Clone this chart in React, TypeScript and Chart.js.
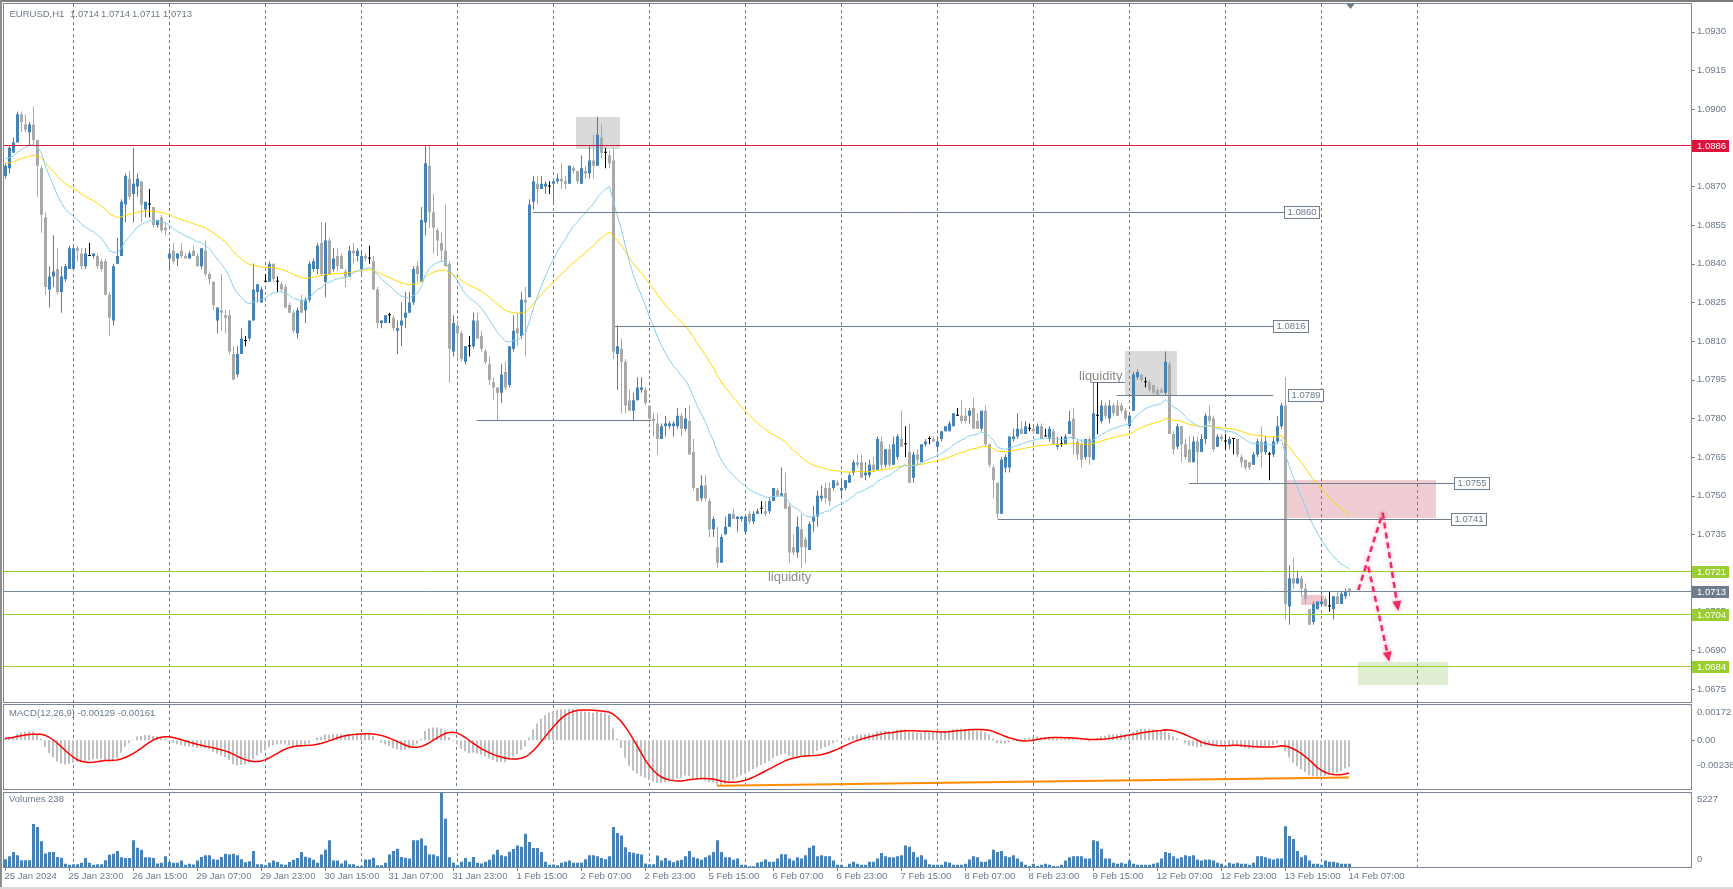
import React, { useEffect, useRef } from "react";
import { Chart, registerables } from "chart.js";

Chart.register(...registerables);

// ---------------- DATA ----------------
const open = [
  1.0874, 1.0877, 1.0883, 1.0887, 1.0898, 1.0894, 1.0891, 1.0894, 1.0888, 1.0877,
  1.0858, 1.083, 1.0835, 1.0838, 1.0829, 1.0834, 1.0838, 1.0838, 1.0846, 1.0844,
  1.0839, 1.0843, 1.0843, 1.0843, 1.0841, 1.0841, 1.0828, 1.0818, 1.084, 1.0843,
  1.0863, 1.0873, 1.0867, 1.087, 1.0872, 1.0861, 1.0863, 1.0862, 1.0855, 1.0858,
  1.0854, 1.0842, 1.0845, 1.0842, 1.0845, 1.0843, 1.0842, 1.0845, 1.0843, 1.0839,
  1.0845, 1.0836, 1.0833, 1.0818, 1.0822, 1.082, 1.082, 1.0805, 1.0797, 1.0805,
  1.081, 1.0811, 1.0818, 1.0829, 1.0825, 1.0833, 1.0833, 1.084, 1.0833, 1.0832,
  1.0831, 1.0824, 1.0821, 1.0813, 1.0826, 1.0822, 1.0826, 1.0838, 1.0838, 1.0848,
  1.0833, 1.0849, 1.0838, 1.0843, 1.0843, 1.0837, 1.0835, 1.0845, 1.0843, 1.0838,
  1.0843, 1.0842, 1.0841, 1.083, 1.0817, 1.0817, 1.082, 1.0819, 1.0814, 1.0816,
  1.0819, 1.0821, 1.0825, 1.0839, 1.0833, 1.0856, 1.0878, 1.086, 1.0853, 1.0848,
  1.0845, 1.084, 1.0806, 1.0816, 1.0813, 1.0802, 1.0808, 1.0808, 1.0818, 1.0812,
  1.0806, 1.0801, 1.0794, 1.0792, 1.079, 1.0798, 1.0793, 1.0807, 1.0815, 1.0812,
  1.0826, 1.0827, 1.0864, 1.0871, 1.0869, 1.087, 1.087, 1.0871, 1.0872, 1.0873,
  1.0872, 1.0871, 1.0877, 1.0876, 1.0871, 1.0876, 1.0875, 1.088, 1.0878, 1.0889,
  1.0883, 1.0882, 1.088, 1.0805, 1.0807, 1.0802, 1.0787, 1.0783, 1.0787, 1.0791,
  1.0791, 1.0785, 1.078, 1.0778, 1.0772, 1.0777, 1.0777, 1.0777, 1.0777, 1.0781,
  1.0776, 1.0779, 1.0767, 1.0753, 1.0749, 1.0754, 1.0748, 1.0737, 1.073, 1.0724,
  1.0735, 1.0738, 1.0743, 1.0741, 1.0741, 1.0736, 1.0743, 1.074, 1.0743, 1.0745,
  1.0744, 1.0744, 1.0748, 1.0752, 1.075, 1.0751, 1.0746, 1.073, 1.0728, 1.0737,
  1.0733, 1.0729, 1.074, 1.0742, 1.0749, 1.0753, 1.0753, 1.0753, 1.0755, 1.0752,
  1.0753, 1.0755, 1.0759, 1.0763, 1.0763, 1.0758, 1.0758, 1.0762, 1.076, 1.0771,
  1.0762, 1.0768, 1.0762, 1.0765, 1.0772, 1.077, 1.0767, 1.0757, 1.0766, 1.0763,
  1.077, 1.0772, 1.0772, 1.0769, 1.0772, 1.0775, 1.0775, 1.0777, 1.0781, 1.0781,
  1.0781, 1.0781, 1.0784, 1.0779, 1.0776, 1.0783, 1.077, 1.0761, 1.0755, 1.0743,
  1.0761, 1.0761, 1.0772, 1.0773, 1.0776, 1.0774, 1.0776, 1.0776, 1.0774, 1.0777,
  1.0773, 1.0772, 1.0775, 1.0769, 1.077, 1.077, 1.0774, 1.078, 1.0771, 1.077,
  1.0765, 1.0772, 1.0764, 1.0781, 1.0779, 1.0785, 1.078, 1.0785, 1.0785, 1.0785,
  1.0783, 1.0777, 1.0783, 1.0796, 1.0797, 1.0794, 1.0794, 1.0793, 1.0791, 1.0791,
  1.079, 1.0801, 1.0774, 1.0769, 1.0777, 1.077, 1.0768, 1.0763, 1.0771, 1.0767,
  1.0772, 1.0781, 1.078, 1.0769, 1.0773, 1.0771, 1.077, 1.0772, 1.0772, 1.0765,
  1.0764, 1.0763, 1.0762, 1.0766, 1.0771, 1.0767, 1.0766, 1.0766, 1.0771, 1.0777,
  1.0785, 1.0707, 1.0718, 1.0716, 1.0718, 1.0714, 1.0706, 1.0701, 1.0706, 1.0708,
  1.071, 1.0707, 1.0706, 1.0711, 1.0708, 1.0711, 1.0714,
];
const high = [
  1.0879, 1.0886, 1.0889, 1.0899, 1.0899, 1.0898, 1.0895, 1.0901, 1.0888, 1.0878,
  1.086, 1.0839, 1.0851, 1.0846, 1.0839, 1.084, 1.0847, 1.0847, 1.0847, 1.0846,
  1.0846, 1.0848, 1.0844, 1.0844, 1.0842, 1.0842, 1.0829, 1.084, 1.085, 1.0865,
  1.0875, 1.0876, 1.0885, 1.0875, 1.0872, 1.0864, 1.0869, 1.0862, 1.0857, 1.0859,
  1.0856, 1.0846, 1.0848, 1.0844, 1.0848, 1.0844, 1.0845, 1.0847, 1.0844, 1.0846,
  1.0849, 1.0837, 1.0833, 1.0823, 1.0836, 1.0822, 1.0822, 1.0808, 1.0808, 1.0815,
  1.0812, 1.0818, 1.084, 1.0832, 1.0831, 1.0836, 1.0841, 1.084, 1.0835, 1.0833,
  1.0832, 1.0825, 1.0822, 1.0823, 1.0828, 1.0827, 1.0841, 1.0842, 1.0848, 1.0856,
  1.0856, 1.085, 1.0846, 1.0846, 1.0844, 1.0838, 1.0847, 1.0848, 1.0846, 1.0845,
  1.0844, 1.0847, 1.0843, 1.0831, 1.0818, 1.082, 1.0821, 1.082, 1.0818, 1.0825,
  1.0829, 1.0829, 1.0839, 1.0841, 1.0862, 1.0886, 1.0886, 1.0867, 1.0854, 1.0852,
  1.0863, 1.0841, 1.082, 1.0818, 1.0814, 1.0808, 1.0812, 1.0821, 1.0821, 1.0814,
  1.0807, 1.0804, 1.0796, 1.0792, 1.0801, 1.0802, 1.0808, 1.082, 1.0821, 1.0829,
  1.0831, 1.0865, 1.0874, 1.0874, 1.0874, 1.0872, 1.0872, 1.0872, 1.0875, 1.0879,
  1.0874, 1.0878, 1.0878, 1.0876, 1.0882, 1.0878, 1.0886, 1.089, 1.0897, 1.0894,
  1.0885, 1.0884, 1.0885, 1.0816, 1.0811, 1.0803, 1.0791, 1.079, 1.0796, 1.0796,
  1.0792, 1.0785, 1.0782, 1.0782, 1.0778, 1.0781, 1.0779, 1.0779, 1.0784, 1.0782,
  1.0784, 1.0785, 1.0772, 1.0753, 1.0758, 1.0758, 1.0749, 1.0742, 1.0738, 1.0735,
  1.0742, 1.0743, 1.0745, 1.0742, 1.0742, 1.0742, 1.0744, 1.0744, 1.0745, 1.0748,
  1.0748, 1.0749, 1.0753, 1.0753, 1.0761, 1.0759, 1.0747, 1.0735, 1.0742, 1.0743,
  1.0734, 1.074, 1.0746, 1.0752, 1.0754, 1.0755, 1.0755, 1.0756, 1.0756, 1.0756,
  1.0756, 1.0759, 1.0764, 1.0766, 1.0766, 1.0763, 1.0764, 1.0765, 1.0773, 1.0773,
  1.0768, 1.077, 1.0773, 1.0774, 1.0783, 1.0777, 1.0778, 1.0767, 1.0768, 1.077,
  1.0772, 1.0773, 1.0773, 1.0772, 1.0775, 1.0777, 1.0779, 1.0782, 1.0784, 1.0787,
  1.0784, 1.0784, 1.0788, 1.0782, 1.0783, 1.0785, 1.077, 1.0762, 1.0755, 1.0765,
  1.0766, 1.0773, 1.0776, 1.0782, 1.0779, 1.0779, 1.0778, 1.0777, 1.0778, 1.0778,
  1.0776, 1.0777, 1.0776, 1.0773, 1.0773, 1.0774, 1.0783, 1.0784, 1.0772, 1.0772,
  1.0772, 1.0773, 1.0794, 1.0794, 1.0787, 1.0786, 1.0787, 1.0786, 1.0787, 1.0786,
  1.0784, 1.0782, 1.0798, 1.0799, 1.0797, 1.0796, 1.0795, 1.0793, 1.0792, 1.0792,
  1.0806, 1.0802, 1.0775, 1.0778, 1.0777, 1.0772, 1.0773, 1.0773, 1.0773, 1.0774,
  1.0782, 1.0785, 1.0781, 1.0774, 1.0774, 1.0774, 1.0773, 1.0772, 1.0772, 1.0766,
  1.0764, 1.0763, 1.0767, 1.0772, 1.0777, 1.0773, 1.0767, 1.0773, 1.0781, 1.0786,
  1.0796, 1.0723, 1.0726, 1.0721, 1.0719, 1.0716, 1.0706, 1.0709, 1.0709, 1.0711,
  1.0711, 1.0713, 1.0711, 1.0713, 1.0713, 1.0714, 1.0714,
];
const low = [
  1.0873, 1.0875, 1.0883, 1.0887, 1.0891, 1.0891, 1.0886, 1.0886, 1.0866, 1.0852,
  1.0828, 1.0823, 1.0831, 1.0828, 1.0821, 1.0833, 1.0838, 1.0838, 1.0841, 1.0838,
  1.0838, 1.0843, 1.0842, 1.0838, 1.0837, 1.0828, 1.0812, 1.0816, 1.084, 1.0843,
  1.0856, 1.0865, 1.0856, 1.0866, 1.0856, 1.0858, 1.0858, 1.0854, 1.0854, 1.0852,
  1.0851, 1.0838, 1.084, 1.0839, 1.0842, 1.0842, 1.0842, 1.0843, 1.0839, 1.0838,
  1.0835, 1.0832, 1.0822, 1.0813, 1.0814, 1.0813, 1.0805, 1.0795, 1.0796, 1.0805,
  1.0808, 1.081, 1.0818, 1.0825, 1.0825, 1.0833, 1.0833, 1.0833, 1.0829, 1.0829,
  1.0823, 1.0821, 1.0813, 1.0811, 1.0821, 1.0817, 1.0825, 1.0837, 1.0836, 1.0835,
  1.0827, 1.0836, 1.0837, 1.0837, 1.0838, 1.0831, 1.0835, 1.084, 1.0841, 1.0835,
  1.0841, 1.084, 1.083, 1.0815, 1.0815, 1.0817, 1.0817, 1.0814, 1.0805, 1.0808,
  1.0815, 1.0821, 1.0824, 1.0833, 1.0833, 1.0851, 1.0854, 1.0844, 1.0843, 1.0841,
  1.0839, 1.0794, 1.0804, 1.0803, 1.0802, 1.0801, 1.0804, 1.0807, 1.0811, 1.0806,
  1.0801, 1.0793, 1.0787, 1.0779, 1.0786, 1.0791, 1.0792, 1.0806, 1.0808, 1.0811,
  1.0804, 1.0827, 1.0861, 1.0863, 1.0869, 1.0867, 1.0867, 1.0863, 1.0871, 1.0869,
  1.0869, 1.0871, 1.0875, 1.0871, 1.0871, 1.0873, 1.0873, 1.0873, 1.0878, 1.0881,
  1.0877, 1.0877, 1.0803, 1.0791, 1.0782, 1.0782, 1.0783, 1.0779, 1.0787, 1.079,
  1.0785, 1.0778, 1.0773, 1.0766, 1.0772, 1.0773, 1.0776, 1.0773, 1.0776, 1.0773,
  1.0775, 1.0766, 1.0752, 1.0748, 1.0748, 1.0748, 1.0734, 1.0734, 1.0722, 1.0724,
  1.0735, 1.0738, 1.0741, 1.0736, 1.074, 1.0735, 1.0739, 1.0739, 1.0743, 1.0743,
  1.0742, 1.0743, 1.0748, 1.075, 1.075, 1.0745, 1.0724, 1.0727, 1.0726, 1.0722,
  1.0724, 1.0729, 1.0736, 1.0738, 1.0748, 1.0747, 1.0746, 1.0752, 1.0754, 1.0749,
  1.0752, 1.0755, 1.0758, 1.0761, 1.0757, 1.0756, 1.0757, 1.0759, 1.076, 1.076,
  1.0761, 1.0761, 1.0762, 1.0764, 1.0769, 1.0765, 1.0755, 1.0755, 1.0762, 1.0763,
  1.0769, 1.077, 1.0771, 1.0767, 1.0771, 1.0775, 1.0775, 1.0777, 1.0781, 1.0778,
  1.0778, 1.0778, 1.0776, 1.0776, 1.0775, 1.0769, 1.0761, 1.0749, 1.0741, 1.0743,
  1.0759, 1.0759, 1.0771, 1.0772, 1.0774, 1.0774, 1.0775, 1.0774, 1.0774, 1.0772,
  1.0773, 1.0771, 1.077, 1.0768, 1.0769, 1.077, 1.0774, 1.0766, 1.0764, 1.0761,
  1.0764, 1.0762, 1.0764, 1.0774, 1.0778, 1.078, 1.0778, 1.0781, 1.0781, 1.0782,
  1.0779, 1.0776, 1.0783, 1.0795, 1.0794, 1.0792, 1.079, 1.0789, 1.0789, 1.079,
  1.0789, 1.0774, 1.0766, 1.0768, 1.0763, 1.0764, 1.0763, 1.0763, 1.0755, 1.0767,
  1.077, 1.0778, 1.0767, 1.0769, 1.0771, 1.0768, 1.0768, 1.0766, 1.0765, 1.0761,
  1.076, 1.076, 1.0762, 1.0765, 1.0761, 1.0766, 1.0756, 1.0765, 1.077, 1.0776,
  1.0702, 1.07, 1.0714, 1.0716, 1.0711, 1.0708, 1.07, 1.07, 1.0706, 1.0707,
  1.0707, 1.0705, 1.0702, 1.0708, 1.0708, 1.071, 1.0711,
];
const close = [
  1.0878, 1.0885, 1.0887, 1.0898, 1.0895, 1.0892, 1.0894, 1.0888, 1.0878, 1.0859,
  1.0831, 1.0835, 1.0837, 1.0829, 1.0835, 1.0839, 1.0846, 1.0846, 1.0845, 1.0839,
  1.0844, 1.0843, 1.0844, 1.0839, 1.0838, 1.0828, 1.0819, 1.0839, 1.0843, 1.0864,
  1.0874, 1.0866, 1.0871, 1.0873, 1.0863, 1.0864, 1.0863, 1.0855, 1.0857, 1.0853,
  1.0853, 1.0844, 1.0841, 1.0844, 1.0843, 1.0842, 1.0844, 1.0843, 1.0839, 1.0846,
  1.0836, 1.0834, 1.0824, 1.0823, 1.0821, 1.0819, 1.0806, 1.0795, 1.0805, 1.0811,
  1.081, 1.0818, 1.083, 1.0832, 1.083, 1.0833, 1.084, 1.0834, 1.0833, 1.083,
  1.0823, 1.0821, 1.0814, 1.0822, 1.0821, 1.0826, 1.084, 1.0841, 1.0847, 1.0836,
  1.0849, 1.0836, 1.0842, 1.0839, 1.0838, 1.0835, 1.0845, 1.0844, 1.0845, 1.0843,
  1.0842, 1.0842, 1.083, 1.0817, 1.0818, 1.082, 1.082, 1.0815, 1.0815, 1.0818,
  1.0821, 1.0825, 1.0838, 1.0836, 1.0857, 1.0879, 1.086, 1.0854, 1.0849, 1.0845,
  1.0839, 1.0807, 1.0817, 1.0813, 1.0803, 1.0808, 1.0808, 1.0818, 1.0811, 1.0807,
  1.0802, 1.0795, 1.0792, 1.079, 1.0797, 1.0792, 1.0808, 1.0814, 1.0813, 1.0826,
  1.0825, 1.0863, 1.0872, 1.0869, 1.0871, 1.0871, 1.087, 1.0872, 1.0873, 1.0872,
  1.0871, 1.0878, 1.0876, 1.0872, 1.0877, 1.0875, 1.088, 1.0878, 1.089, 1.0883,
  1.0883, 1.0879, 1.0806, 1.0808, 1.0802, 1.0785, 1.0783, 1.0787, 1.0792, 1.0792,
  1.0786, 1.078, 1.0779, 1.0772, 1.0777, 1.0778, 1.0778, 1.0778, 1.0781, 1.0776,
  1.078, 1.0766, 1.0753, 1.0748, 1.0754, 1.0749, 1.0737, 1.0741, 1.0724, 1.0734,
  1.0738, 1.0743, 1.0741, 1.0742, 1.0742, 1.0742, 1.074, 1.0743, 1.0744, 1.0745,
  1.0743, 1.0748, 1.0753, 1.075, 1.0751, 1.0745, 1.0728, 1.0728, 1.0738, 1.073,
  1.073, 1.0739, 1.0742, 1.075, 1.075, 1.0749, 1.0748, 1.0756, 1.0754, 1.0753,
  1.0756, 1.0758, 1.0763, 1.0762, 1.0757, 1.0759, 1.0762, 1.076, 1.0772, 1.0762,
  1.0768, 1.0762, 1.077, 1.0773, 1.0769, 1.077, 1.0755, 1.0766, 1.0764, 1.077,
  1.0771, 1.0772, 1.0771, 1.0771, 1.0775, 1.0777, 1.0778, 1.0782, 1.0781, 1.0779,
  1.0779, 1.0783, 1.0776, 1.0776, 1.0783, 1.077, 1.0762, 1.0756, 1.0743, 1.0764,
  1.0765, 1.0773, 1.0773, 1.0776, 1.0774, 1.0777, 1.0776, 1.0775, 1.0777, 1.0772,
  1.0773, 1.0776, 1.077, 1.077, 1.077, 1.0773, 1.0779, 1.0772, 1.0766, 1.0764,
  1.0772, 1.0765, 1.0782, 1.0781, 1.0785, 1.0781, 1.0785, 1.0782, 1.0781, 1.0783,
  1.078, 1.0781, 1.0797, 1.0798, 1.0795, 1.0794, 1.0791, 1.079, 1.0789, 1.079,
  1.0802, 1.0774, 1.0768, 1.0777, 1.077, 1.0765, 1.0763, 1.0771, 1.0767, 1.0772,
  1.0781, 1.0779, 1.0768, 1.0773, 1.0772, 1.0771, 1.0772, 1.0772, 1.0766, 1.0763,
  1.0761, 1.0761, 1.0766, 1.0771, 1.0767, 1.0771, 1.0766, 1.0771, 1.0777, 1.0785,
  1.0708, 1.0718, 1.0716, 1.0718, 1.0714, 1.071, 1.07, 1.0708, 1.0709, 1.0709,
  1.0707, 1.0707, 1.0711, 1.0708, 1.0712, 1.0713, 1.0713,
];
const volume = [
  555, 758, 1060, 833, 480, 480, 480, 3030, 2828, 1818, 960, 1060, 1060, 707, 656, 227, 151,
  202, 202, 303, 631, 303, 151, 202, 202, 480, 859, 934, 1136, 682, 631, 631, 1894, 1364, 1212, 682, 682, 631, 252, 303, 758,
  379, 303, 303, 455, 151, 227, 177, 455, 707, 833, 833, 555, 505, 707, 934, 884, 934, 833, 555, 328, 404, 1136, 202, 202,
  126, 303, 455, 354, 202, 151, 354, 505, 631, 1060, 732, 656, 505, 303, 884, 1212, 1894, 455, 455, 252, 455, 202, 202, 76,
  76, 530, 530, 656, 126, 126, 303, 884, 1136, 1288, 707, 656, 606, 1894, 1894, 2020, 1515, 884, 884, 757, 5227, 3409, 682, 303,
  126, 379, 631, 379, 707, 303, 252, 379, 505, 884, 1212, 833, 758, 1086, 1263, 1515, 1439, 2348, 1768, 1338, 1338, 1060, 379, 151,
  177, 126, 303, 379, 455, 303, 303, 303, 555, 833, 833, 758, 631, 555, 758, 2828, 2399, 2222, 1389, 1060, 1010, 934, 884, 252,
  202, 202, 808, 455, 631, 455, 328, 455, 505, 758, 1136, 682,
  606, 505, 682, 833, 1060, 1894, 1060, 682, 682, 505,
  606, 151, 151, 50, 50, 303, 379, 530, 379, 379,
  606, 909, 909, 606, 455, 682, 606, 833, 1364, 1515,
  758, 833, 758, 758, 455, 151, 151, 20, 227, 379,
  227, 151, 151, 379, 379, 606, 985, 758, 682, 682,
  758, 833, 1515, 1439, 1060, 682, 833, 530, 202, 151,
  151, 151, 379, 303, 151, 151, 151, 227, 530, 758,
  682, 379, 379, 530, 1212, 1060, 1136, 758, 682, 833,
  606, 379, 151, 76, 227, 76, 151, 227, 151, 76,
  50, 151, 455, 682, 758, 758, 758, 606, 606, 1894,
  1818, 1288, 606, 606, 303, 227, 303, 227, 455, 227,
  151, 151, 151, 151, 227, 303, 606, 1060, 985, 758,
  606, 682, 833, 758, 833, 530, 455, 530, 530, 455,
  303, 227, 76, 303, 227, 303, 227, 227, 151, 303,
  758, 758, 682, 606, 530, 606, 606, 2879, 2197, 1970,
  1136, 682, 833, 455, 227, 227, 151, 455, 379, 379,
  303, 227, 227, 238,
];

// indicator seeds (values of the averages just before the first bar)
const ema20Seed = 1.0881;
const ema50Seed = 1.0879;
const ema12Seed = 1.08785;
const ema26Seed = 1.08775;

// axes
const priceTicks = [1.0675, 1.069, 1.0705, 1.072, 1.0735, 1.075, 1.0765, 1.078, 1.0795, 1.081, 1.0825, 1.084, 1.0855, 1.087, 1.0885, 1.09, 1.0915, 1.093];
const macdTickValues = [0.00172, 0, -0.00238];
const macdTickLabels = ["0.00172", "0.00", "-0.00238"];
const volumeTickValues = [5227, 0];
const xTickBars = [0, 16, 32, 48, 64, 80, 96, 112, 128, 144, 160, 176, 192, 208, 224, 240, 256, 272, 288, 304, 320, 336];
const xTickLabels = [
  "25 Jan 2024", "25 Jan 23:00", "26 Jan 15:00", "29 Jan 07:00", "29 Jan 23:00", "30 Jan 15:00",
  "31 Jan 07:00", "31 Jan 23:00", "1 Feb 15:00", "2 Feb 07:00", "2 Feb 23:00", "5 Feb 15:00",
  "6 Feb 07:00", "6 Feb 23:00", "7 Feb 15:00", "8 Feb 07:00", "8 Feb 23:00", "9 Feb 15:00",
  "12 Feb 07:00", "12 Feb 23:00", "13 Feb 15:00", "14 Feb 07:00",
];
const separatorBars = [17, 41, 65, 89, 113, 137, 161, 185, 209, 233, 257, 281, 305, 329, 353];

// header (symbol + last bar OHLC)
const headerSymbol = "EURUSD,H1";
const headerOHLC = ["1.0714", "1.0714", "1.0711", "1.0713"];

// full-width price levels
const levelPrices = [1.0886, 1.0721, 1.0713, 1.0704, 1.0684];
// horizontal trend segments (bar index from/to, price)
const segFrom = [131.9, 152.4, 117.8, 277.8, 295.9, 248.1, 271.5];
const segTo = [319.6, 316.9, 161.4, 316.9, 362.1, 361.4, 279.9];
const segPrice = [1.086, 1.0816, 1.07794, 1.0789, 1.0755, 1.0741, 1.0794];
const segLabelBar = [319.6, 316.9, -1, 320.6, 362.1, 361.4, -1];
// rectangles (bar from/to, price top/bottom)
const zoneFrom = [142.7, 279.75, 319.75, 323.9, 338];
const zoneTo = [153.75, 292.7, 357.4, 329.75, 360.5];
const zoneTop = [1.0897, 1.08063, 1.07561, 1.07115, 1.06856];
const zoneBottom = [1.08845, 1.07887, 1.07413, 1.07076, 1.06766];
// dashed arrows
const arrowFromBar = [338.2, 344.3, 340.7];
const arrowFromPrice = [1.07134, 1.07434, 1.07225];
const arrowToBar = [344.3, 348.2, 345.95];
const arrowToPrice = [1.07434, 1.07053, 1.06856];
const arrowHead = [false, true, true];
// text notes
const noteText = ["liquidity", "liquidity"];
const noteBar = [268.4, 190.6];
const notePrice = [1.07961, 1.07185];
// MACD trend line
const macdTrendBars = [178, 336];
const macdTrendValues = [-0.00222, -0.00182];

// ---------------- STYLE ----------------
const SLOTS = 422;
const slotLabels = Array.from({ length: SLOTS }, (_, i) => String(i));
const FONT = '9.5px "Liberation Sans", Arial, sans-serif';
const AXIS_TEXT = "#6b7a8c";
const FRAME = "#7a8796";
const SEP = "#6f7c8b";
const BULL = "#4682b4";
const BEAR = "#a9a9a9";
const DOJI = "#000000";
const levelColors = ["#dc143c", "#9acd32", "#778899", "#9acd32", "#9acd32"];
const levelBoxColors = ["#dc143c", "#9acd32", "#6e7c8c", "#9acd32", "#9acd32"];
const zoneColors = ["#dadada", "#dadada", "#efcdd2", "#efc6cc", "#dfedd0"];
const SEG_COLOR = "#6f7e8e";
const ARROW = "#f02a62";

// ---------------- DERIVED ----------------
function emaFrom(values: number[], period: number, seed: number) {
  const k = 2 / (period + 1);
  let prev = seed;
  return values.map((v) => (prev = prev + k * (v - prev)));
}
const ema20 = emaFrom(close, 20, ema20Seed);
const ema50 = emaFrom(close, 50, ema50Seed);
const ema12 = emaFrom(close, 12, ema12Seed);
const ema26 = emaFrom(close, 26, ema26Seed);
const macdMain = ema12.map((v, i) => v - ema26[i]);
const macdSignal = macdMain.map((_, i) => {
  let s = 0, n = 0;
  for (let j = Math.max(0, i - 8); j <= i; j++) { s += macdMain[j]; n++; }
  return s / n;
});
const candleColors = close.map((c, i) => (c > open[i] ? BULL : c < open[i] ? BEAR : DOJI));

// ---------------- HELPERS ----------------
function txt(ctx: any, s: string, x: number, y: number, color: string, font = FONT, align = "left") {
  ctx.font = font;
  ctx.fillStyle = color;
  ctx.textAlign = align;
  ctx.textBaseline = "middle";
  ctx.fillText(s, x, y);
}
function drawSeparators(chart: any) {
  const { ctx, chartArea: a, scales } = chart;
  ctx.save();
  ctx.strokeStyle = SEP;
  ctx.lineWidth = 1;
  ctx.setLineDash([3, 3]);
  separatorBars.forEach((b) => {
    const x = Math.floor(scales.x.getPixelForValue(b)) + 0.5;
    ctx.beginPath();
    ctx.moveTo(x, a.top);
    ctx.lineTo(x, a.bottom);
    ctx.stroke();
  });
  ctx.restore();
}
function drawFrame(chart: any) {
  const { ctx, chartArea: a } = chart;
  ctx.save();
  ctx.strokeStyle = FRAME;
  ctx.lineWidth = 1;
  ctx.strokeRect(3.5, a.top - 0.5, 1688, a.bottom - a.top + 1);
  ctx.restore();
}
function axisLabel(chart: any, label: string, y: number, tick = true) {
  const { ctx } = chart;
  if (tick) {
    ctx.save();
    ctx.strokeStyle = FRAME;
    ctx.beginPath();
    ctx.moveTo(1692, Math.round(y) + 0.5);
    ctx.lineTo(1695, Math.round(y) + 0.5);
    ctx.stroke();
    ctx.restore();
  }
  txt(ctx, label, 1697, y, AXIS_TEXT);
}

function baseOptions(min: number, max: number, padTop: number, padBottom: number, padLeft = 3.5): any {
  return {
    responsive: false,
    maintainAspectRatio: false,
    animation: false,
    devicePixelRatio: 1,
    events: [],
    layout: { autoPadding: false, padding: { left: padLeft, right: 0, top: padTop, bottom: padBottom } },
    plugins: { legend: { display: false }, tooltip: { enabled: false }, title: { display: false } },
    scales: {
      x: { type: "category", labels: slotLabels, offset: true, display: false, grid: { display: false } },
      y: {
        type: "linear", position: "right", min, max, display: true,
        grid: { display: false, drawTicks: false }, border: { display: false }, ticks: { display: false },
        afterFit: (s: any) => { s.width = 1733 - (padLeft + SLOTS * 4); },
      },
    },
  };
}

// ---------------- PLUGINS ----------------
const mainDecor = {
  id: "mainDecor",
  beforeDatasetsDraw(chart: any) {
    const { ctx, chartArea: a, scales } = chart;
    const xs = scales.x, ys = scales.y;
    ctx.save();
    ctx.beginPath();
    ctx.rect(a.left, a.top, a.right - a.left, a.bottom - a.top);
    ctx.clip();
    for (let k = 0; k < zoneFrom.length; k++) {
      const x0 = xs.getPixelForValue(zoneFrom[k]);
      const x1 = xs.getPixelForValue(zoneTo[k]);
      const y0 = ys.getPixelForValue(zoneTop[k]);
      const y1 = ys.getPixelForValue(zoneBottom[k]);
      ctx.fillStyle = zoneColors[k];
      ctx.fillRect(Math.round(x0), Math.round(y0), Math.round(x1 - x0), Math.round(y1 - y0));
    }
    ctx.restore();
    drawSeparators(chart);
  },
  afterDatasetsDraw(chart: any) {
    const { ctx, chartArea: a, scales } = chart;
    const xs = scales.x, ys = scales.y;
    ctx.save();
    ctx.beginPath();
    ctx.rect(a.left, a.top, a.right - a.left, a.bottom - a.top);
    ctx.clip();
    ctx.lineWidth = 1;
    levelPrices.forEach((p, k) => {
      const y = Math.round(ys.getPixelForValue(p)) + 0.5;
      ctx.strokeStyle = levelColors[k];
      ctx.beginPath();
      ctx.moveTo(a.left, y);
      ctx.lineTo(a.right, y);
      ctx.stroke();
    });
    for (let k = 0; k < segPrice.length; k++) {
      const y = Math.round(ys.getPixelForValue(segPrice[k])) + 0.5;
      ctx.strokeStyle = SEG_COLOR;
      ctx.beginPath();
      ctx.moveTo(xs.getPixelForValue(segFrom[k]), y);
      ctx.lineTo(xs.getPixelForValue(segTo[k]), y);
      ctx.stroke();
      if (segLabelBar[k] >= 0) {
        const bx = Math.round(xs.getPixelForValue(segLabelBar[k])) + 0.5;
        ctx.fillStyle = "#ffffff";
        ctx.fillRect(bx, y - 6, 35, 12);
        ctx.strokeStyle = SEG_COLOR;
        ctx.strokeRect(bx, y - 6, 35, 12);
        txt(ctx, segPrice[k].toFixed(4), bx + 3, y, "#6a7a8c");
      }
    }
    for (let k = 0; k < noteText.length; k++) {
      txt(ctx, noteText[k], xs.getPixelForValue(noteBar[k]), ys.getPixelForValue(notePrice[k]), "#8a8a8a", '13px "Liberation Sans", Arial, sans-serif');
    }
    ctx.strokeStyle = ARROW;
    ctx.fillStyle = ARROW;
    ctx.lineWidth = 2.5;
    ctx.shadowColor = "rgba(240,42,98,0.45)";
    ctx.shadowBlur = 4;
    for (let k = 0; k < arrowFromBar.length; k++) {
      const x0 = xs.getPixelForValue(arrowFromBar[k]);
      const y0 = ys.getPixelForValue(arrowFromPrice[k]);
      const x1 = xs.getPixelForValue(arrowToBar[k]);
      const y1 = ys.getPixelForValue(arrowToPrice[k]);
      const ang = Math.atan2(y1 - y0, x1 - x0);
      const back = arrowHead[k] ? 8 : 0;
      ctx.setLineDash([6, 4]);
      ctx.beginPath();
      ctx.moveTo(x0, y0);
      ctx.lineTo(x1 - back * Math.cos(ang), y1 - back * Math.sin(ang));
      ctx.stroke();
      if (arrowHead[k]) {
        ctx.setLineDash([]);
        ctx.beginPath();
        ctx.moveTo(x1, y1);
        ctx.lineTo(x1 - 10 * Math.cos(ang) + 4.5 * Math.sin(ang), y1 - 10 * Math.sin(ang) - 4.5 * Math.cos(ang));
        ctx.lineTo(x1 - 10 * Math.cos(ang) - 4.5 * Math.sin(ang), y1 - 10 * Math.sin(ang) + 4.5 * Math.cos(ang));
        ctx.closePath();
        ctx.fill();
      }
    }
    ctx.restore();
  },
  afterDraw(chart: any) {
    const { ctx, chartArea: a, scales } = chart;
    const xs = scales.x, ys = scales.y;
    drawFrame(chart);
    priceTicks.forEach((p) => axisLabel(chart, p.toFixed(4), ys.getPixelForValue(p)));
    levelPrices.forEach((p, k) => {
      const y = Math.round(ys.getPixelForValue(p));
      ctx.fillStyle = levelBoxColors[k];
      ctx.fillRect(1692, y - 5, 37, 12);
      txt(ctx, p.toFixed(4), 1697, y + 1, "#ffffff");
    });
    txt(ctx, headerSymbol, 9.5, 14, AXIS_TEXT);
    headerOHLC.forEach((s, k) => txt(ctx, s, 70 + k * 31, 14, AXIS_TEXT));
    const mx = Math.round(xs.getPixelForValue(336)) + 0.5;
    ctx.fillStyle = "#6f7c8b";
    ctx.beginPath();
    ctx.moveTo(mx - 4, a.top);
    ctx.lineTo(mx + 4, a.top);
    ctx.lineTo(mx, a.top + 5);
    ctx.closePath();
    ctx.fill();
  },
};

const macdDecor = {
  id: "macdDecor",
  beforeDatasetsDraw(chart: any) { drawSeparators(chart); },
  afterDatasetsDraw(chart: any) {
    const { ctx, scales } = chart;
    ctx.save();
    ctx.strokeStyle = "#ff8c00";
    ctx.lineWidth = 2;
    ctx.beginPath();
    ctx.moveTo(scales.x.getPixelForValue(macdTrendBars[0]), scales.y.getPixelForValue(macdTrendValues[0]));
    ctx.lineTo(scales.x.getPixelForValue(macdTrendBars[1]), scales.y.getPixelForValue(macdTrendValues[1]));
    ctx.stroke();
    ctx.restore();
  },
  afterDraw(chart: any) {
    const { ctx, chartArea: a, scales } = chart;
    drawFrame(chart);
    axisLabel(chart, macdTickLabels[0], a.top + 7, false);
    axisLabel(chart, macdTickLabels[1], scales.y.getPixelForValue(macdTickValues[1]));
    axisLabel(chart, macdTickLabels[2], a.bottom - 24, false);
    txt(ctx, "MACD(12,26,9) -0.00129 -0.00161", 9, a.top + 8, AXIS_TEXT);
  },
};

const volDecor = {
  id: "volDecor",
  beforeDatasetsDraw(chart: any) { drawSeparators(chart); },
  afterDraw(chart: any) {
    const { ctx, chartArea: a, scales } = chart;
    drawFrame(chart);
    axisLabel(chart, String(volumeTickValues[0]), a.top + 6, false);
    axisLabel(chart, String(volumeTickValues[1]), a.bottom - 8, false);
    txt(ctx, "Volumes 238", 9, a.top + 6, AXIS_TEXT);
    ctx.save();
    ctx.strokeStyle = FRAME;
    xTickBars.forEach((b, k) => {
      const x = Math.floor(scales.x.getPixelForValue(b)) + 0.5;
      ctx.beginPath();
      ctx.moveTo(x, a.bottom);
      ctx.lineTo(x, a.bottom + 4);
      ctx.stroke();
      txt(ctx, xTickLabels[k], x - 1, a.bottom + 9, AXIS_TEXT);
    });
    ctx.restore();
  },
};

// ---------------- COMPONENT ----------------
export default function App() {
  const mainRef = useRef<HTMLCanvasElement>(null);
  const macdRef = useRef<HTMLCanvasElement>(null);
  const volRef = useRef<HTMLCanvasElement>(null);

  useEffect(() => {
    document.body.style.margin = "0";
    document.body.style.background = "#ffffff";

    const main = new Chart(mainRef.current as HTMLCanvasElement, {
      type: "bar",
      data: {
        labels: slotLabels,
        datasets: [
          { type: "line", data: ema20, borderColor: "#87ceeb", borderWidth: 1, pointRadius: 0, order: 0 } as any,
          { type: "line", data: ema50, borderColor: "#ffd700", borderWidth: 1, pointRadius: 0, order: 0 } as any,
          {
            type: "bar", data: open.map((o, i) => [o, close[i]]), backgroundColor: candleColors,
            barThickness: 3, minBarLength: 1, grouped: false, order: 1, inflateAmount: 0, borderWidth: 0,
          } as any,
          {
            type: "bar", data: low.map((l, i) => [l, high[i]]), backgroundColor: candleColors,
            barThickness: 1, grouped: false, order: 2, inflateAmount: 0, borderWidth: 0,
          } as any,
        ],
      },
      options: baseOptions(1.067, 1.094074, 4, 2),
      plugins: [mainDecor],
    });

    const macd = new Chart(macdRef.current as HTMLCanvasElement, {
      type: "bar",
      data: {
        labels: slotLabels,
        datasets: [
          { type: "line", data: macdSignal, borderColor: "#ff0000", borderWidth: 1.5, pointRadius: 0, order: 0 } as any,
          { type: "bar", data: macdMain, backgroundColor: "#c0c0c0", barThickness: 2, grouped: false, order: 1, inflateAmount: 0, borderWidth: 0 } as any,
        ],
      },
      options: baseOptions(-0.00238, 0.00172, 1, 2, 3),
      plugins: [macdDecor],
    });

    const vol = new Chart(volRef.current as HTMLCanvasElement, {
      type: "bar",
      data: {
        labels: slotLabels,
        datasets: [
          { type: "bar", data: volume, backgroundColor: BULL, barThickness: 3, grouped: false, inflateAmount: 0, borderWidth: 0 } as any,
        ],
      },
      options: baseOptions(0, 5227, 3, 22),
      plugins: [volDecor],
    });

    return () => { main.destroy(); macd.destroy(); vol.destroy(); };
  }, []);

  return (
    <div style={{ position: "relative", width: 1733, height: 889, background: "#ffffff", overflow: "hidden" }}>
      <div style={{ position: "absolute", left: 0, top: 0, width: 1733, height: 2, background: "#7d7d7d" }} />
      <div style={{ position: "absolute", left: 0, top: 0, width: 2, height: 889, background: "#8d8d8d" }} />
      <div style={{ position: "absolute", left: 0, top: 887, width: 1733, height: 2, background: "#d9d9d9" }} />
      <canvas ref={mainRef} width={1733} height={704} style={{ position: "absolute", left: 0, top: 0 }} />
      <canvas ref={macdRef} width={1733} height={87} style={{ position: "absolute", left: 0, top: 704 }} />
      <canvas ref={volRef} width={1733} height={99} style={{ position: "absolute", left: 0, top: 790 }} />
    </div>
  );
}
